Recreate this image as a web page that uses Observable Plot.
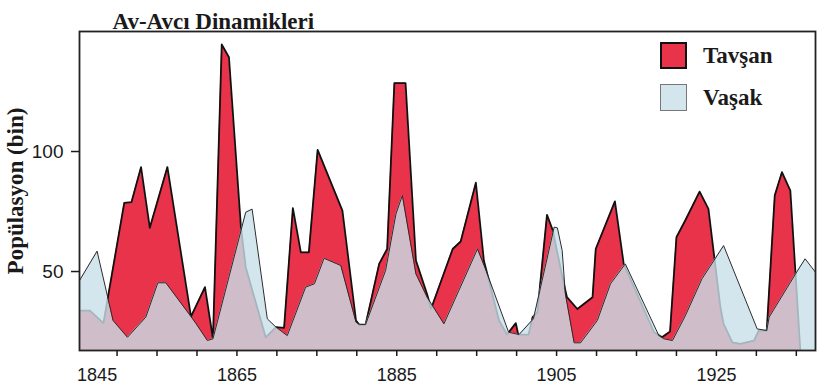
<!DOCTYPE html>
<html><head><meta charset="utf-8">
<script src="https://cdn.jsdelivr.net/npm/d3@7"></script>
<script src="https://cdn.jsdelivr.net/npm/@observablehq/plot@0.6"></script>
<style>
body{margin:0;background:#fff;}
#wrap{position:relative;width:825px;height:385px;overflow:hidden;}
.leg{position:absolute;font-family:"Liberation Serif","Times New Roman",serif;font-weight:bold;font-size:23px;line-height:23px;color:#1a1a1a;white-space:nowrap;}
.sw{position:absolute;box-sizing:border-box;}
</style></head><body><div id="wrap"></div>
<script>
const title = "Av-Avcı Dinamikleri";
const yLabel = "Popülasyon (bin)";
const seriesNames = ["Tavşan", "Vaşak"];

const hareYears = [1845.3, 1846.6, 1848.3, 1850.9, 1851.8, 1853.0, 1854.1, 1856.3, 1859.25, 1861.0, 1862.0, 1863.1, 1864.0, 1865.5, 1866.1, 1868.6, 1869.9, 1870.9, 1872.0, 1873.0, 1874.0, 1875.1, 1878.2, 1879.9, 1880.3, 1881.1, 1882.8, 1883.8, 1884.7, 1886.1, 1887.4, 1888.8, 1889.3, 1892.0, 1893.0, 1894.9, 1895.9, 1897.8, 1898.8, 1899.9, 1900.2, 1901.5, 1902.0, 1902.6, 1903.8, 1904.5, 1905.9, 1906.3, 1907.6, 1909.5, 1909.9, 1912.3, 1913.4, 1917.2, 1918.2, 1919.2, 1920.0, 1921.1, 1922.9, 1924.0, 1925.5, 1925.9, 1927.0, 1928.0, 1929.7, 1930.3, 1931.3, 1932.3, 1933.2, 1934.25, 1934.9, 1935.5];
const hareValues = [33.75, 33.75, 28.5, 78.6, 78.9, 93.5, 68.2, 93.5, 31.25, 43.5, 22, 144.6, 139.3, 68.5, 51.8, 22.6, 26.8, 26.5, 76.4, 58, 58, 100.7, 75.4, 29.6, 27.9, 27.9, 53.2, 59.4, 128.5, 128.5, 54.6, 40.5, 34.5, 59.4, 62.5, 87, 54.6, 29.6, 23.75, 28.5, 23.75, 23.75, 31, 33, 73.6, 67.4, 45, 39.3, 34.4, 39.3, 59.4, 79.2, 53.2, 24.7, 22.6, 25, 64.3, 71.25, 83.3, 76.1, 35.1, 28.2, 20.5, 19.9, 21.25, 25.4, 25.4, 81.7, 91.4, 83.75, 49, 17];

const lynxYears = [1845.3, 1847.5, 1849.5, 1851.3, 1853.6, 1855.1, 1856.1, 1859.25, 1859.9, 1861.3, 1862.0, 1866.1, 1866.9, 1868.8, 1869.9, 1871.3, 1873.6, 1874.7, 1875.9, 1878.0, 1879.9, 1880.3, 1881.1, 1883.6, 1884.9, 1885.7, 1887.4, 1888.8, 1890.9, 1895.1, 1896.1, 1899.0, 1900.3, 1902.1, 1904.7, 1905.1, 1905.7, 1906.1, 1907.2, 1908.0, 1910.1, 1911.75, 1913.6, 1917.8, 1918.4, 1919.5, 1921.1, 1923.2, 1925.9, 1930.1, 1931.3, 1931.6, 1934.9, 1936.1, 1937.4];
const lynxValues = [46.25, 58.5, 29.6, 22.6, 31, 45.3, 45.3, 31.25, 28.2, 21.25, 22, 74.7, 76, 30.3, 26.8, 23.3, 43.5, 44.9, 55.5, 52.5, 28.9, 27.9, 27.9, 50.4, 74, 81.7, 49, 39.3, 28.2, 59.4, 51.1, 24.7, 23.75, 30.3, 68.5, 68.2, 58.75, 40.7, 20.3, 20.3, 29.6, 44.9, 53.2, 23.3, 22, 21.25, 31.5, 47, 60.8, 26.1, 25.4, 31, 49, 55.3, 49.7];

const xTickYears = [1850, 1855, 1860, 1865, 1870, 1875, 1880, 1885, 1890, 1895, 1900, 1905, 1910, 1915, 1920, 1925, 1930, 1935];
const xLabelYears = [1845, 1865, 1885, 1905, 1925];
const yTicks = [50, 100];

const hare = hareYears.map((year, i) => ({year, value: hareValues[i]}));
const lynx = lynxYears.map((year, i) => ({year, value: lynxValues[i]}));

const serif = "'Liberation Serif','Times New Roman',serif";
const ink = "#1a1a1a";

const chart = Plot.plot({
  width: 825, height: 385,
  marginLeft: 79, marginRight: 10, marginTop: 31, marginBottom: 35,
  style: {fontFamily: "'Liberation Sans',Arial,sans-serif", fontSize: "19px", color: ink, background: "#fff"},
  x: {domain: [1845.3, 1937.4]},
  y: {domain: [17.1, 150]},
  marks: [
    Plot.areaY(hare, {x: "year", y: "value", fill: "#e8334a", clip: true}),
    Plot.lineY(hare, {x: "year", y: "value", stroke: "#111", strokeWidth: 1.8, clip: true}),
    Plot.areaY(lynx, {x: "year", y: "value", fill: "#c8e0ea", fillOpacity: 0.8, clip: true}),
    Plot.lineY(lynx, {x: "year", y: "value", stroke: "#2a2a2a", strokeWidth: 1, clip: true}),
    Plot.frame({stroke: "#222", strokeWidth: 1.8}),
    Plot.axisY({ticks: yTicks, tickSize: 8, tickPadding: 8, strokeWidth: 1.5, label: null, fontSize: 19}),
    Plot.axisX({ticks: xTickYears, tickSize: 6, strokeWidth: 1.5, tickFormat: () => "", label: null}),
    Plot.text(xLabelYears.slice(0, 1), {x: d => d, text: d => String(d), frameAnchor: "bottom", dy: 18, lineAnchor: "top", textAnchor: "start", fontSize: 18, fill: ink}),
    Plot.text(xLabelYears.slice(1), {x: d => d, text: d => String(d), frameAnchor: "bottom", dy: 18, lineAnchor: "top", textAnchor: "middle", fontSize: 18, fill: ink}),
    Plot.text([title], {text: d => d, frameAnchor: "top-left", dx: 33, dy: -3, lineAnchor: "bottom", textAnchor: "start", fontFamily: serif, fontWeight: "bold", fontSize: 23, fill: ink, style: "letter-spacing:0.6px"}),
    Plot.text([yLabel], {text: d => d, frameAnchor: "left", dx: -64, rotate: -90, textAnchor: "middle", lineAnchor: "middle", fontFamily: serif, fontWeight: "bold", fontSize: 23, fill: ink, style: "letter-spacing:0.3px"})
  ]
});

const wrap = document.getElementById("wrap");
wrap.appendChild(chart);

const legendColors = [
  {fill: "#e8334a", border: "2px solid #111"},
  {fill: "#d3e6ee", border: "1px solid #777"}
];
seriesNames.forEach((name, i) => {
  const sw = document.createElement("div");
  sw.className = "sw";
  sw.style.left = "660px";
  sw.style.top = (42 + i * 42) + "px";
  sw.style.width = "27px";
  sw.style.height = "27px";
  sw.style.background = legendColors[i].fill;
  sw.style.border = legendColors[i].border;
  wrap.appendChild(sw);
  const t = document.createElement("div");
  t.className = "leg";
  t.textContent = name;
  t.style.left = "703px";
  t.style.top = (44 + i * 42) + "px";
  wrap.appendChild(t);
});
</script></body></html>
